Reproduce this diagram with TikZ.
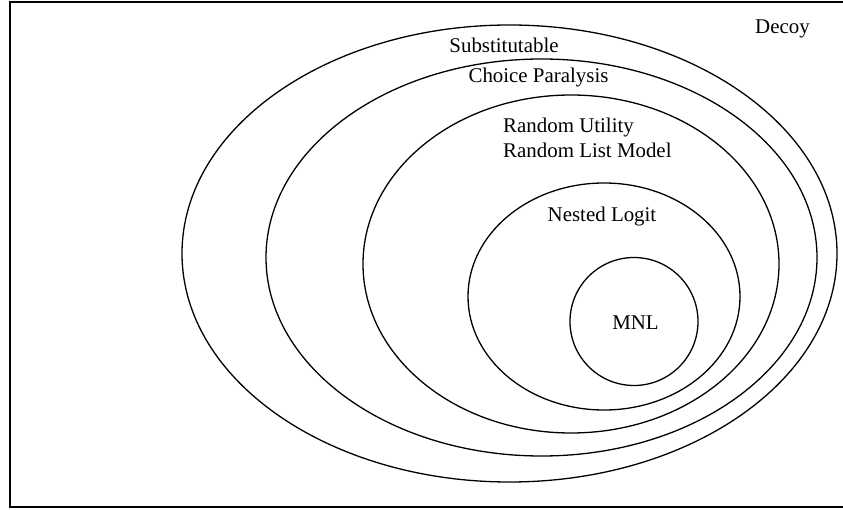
\documentclass[tikz,border=0pt]{standalone}
\usepackage{fontspec}
\setmainfont{Liberation Serif}
\begin{document}
\begin{tikzpicture}[x=1pt,y=-1pt,
  ring/.style={draw=black,line width=1.3pt},
  lbl/.style={inner sep=0pt,font=\fontsize{20.9}{25}\selectfont,text=black}]
\useasboundingbox (0,0) rectangle (843,510);
\fill[white] (0,0) rectangle (843,510);
% frame (right side lies outside the picture)
\draw[line width=2.2pt,black] (846,2) -- (10,2) -- (10,507) -- (846,507);
% nested sets
\draw[ring] (509.5,253.5) ellipse [x radius=327.5pt, y radius=228.5pt];
\draw[ring] (541.5,257.5) ellipse [x radius=275.5pt, y radius=198.5pt];
\draw[ring] (571,264) ellipse [x radius=208pt, y radius=169pt];
\draw[ring] (604,296.5) ellipse [x radius=136pt, y radius=113.5pt];
\draw[ring] (634,321.5) circle [radius=64pt];
% labels
\node[lbl,anchor=base] (decoy) at (782.5,34) {Decoy};
\node[lbl,anchor=base] (subst) at (504,53) {Substitutable};
\node[lbl,anchor=base] (choice) at (538.5,83) {Choice Paralysis};
\node[lbl,anchor=base west] (ru) at (503,133) {Random Utility};
\node[lbl,anchor=base west] (rl) at (503,158) {Random List Model};
\node[lbl,anchor=base] (nl) at (602,222) {Nested Logit};
\node[lbl,anchor=base] (mnl) at (635.5,330) {MNL};
\end{tikzpicture}
\end{document}
